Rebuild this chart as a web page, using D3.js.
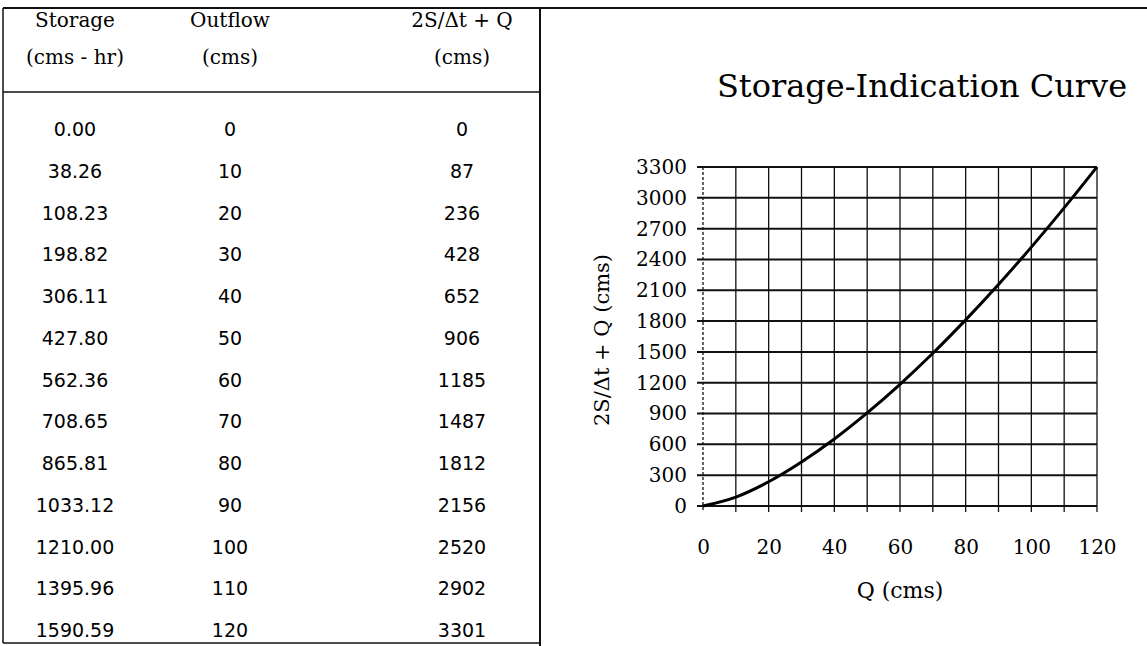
<!DOCTYPE html>
<html>
<head>
<meta charset="utf-8">
<script src="https://cdn.jsdelivr.net/npm/d3@7"></script>
<style>
  body { margin: 0; background: #fff; }
  svg text { fill: #000; }
  .serif { font-family: "DejaVu Serif", serif; }
  .sans { font-family: "DejaVu Sans", sans-serif; }
</style>
</head>
<body>
<svg width="1147" height="646"></svg>
<script>
// table data
var storage = ['0.00', '38.26', '108.23', '198.82', '306.11', '427.80', '562.36',
  '708.65', '865.81', '1033.12', '1210.00', '1395.96', '1590.59']
var outflow = [0, 10, 20, 30, 40, 50, 60, 70, 80, 90, 100, 110, 120]
var indication = [0, 87, 236, 428, 652, 906, 1185, 1487, 1812, 2156, 2520, 2902, 3301]
var headers = [['Storage', '(cms - hr)'], ['Outflow', '(cms)'], ['2S/\u0394t + Q', '(cms)']]

// axis ticks
var xTicks = [0, 20, 40, 60, 80, 100, 120]
var xGrid = d3.range(0, 121, 10)
var yTicks = [0, 300, 600, 900, 1200, 1500, 1800, 2100, 2400, 2700, 3000, 3300]

var svg = d3.select('svg')

// frame lines
var divX = 540
var frame = svg.append('g').attr('stroke', '#111').attr('fill', 'none')
frame.append('line').attr('x1', 3).attr('x2', 1147).attr('y1', 8).attr('y2', 8).attr('stroke-width', 2)
frame.append('line').attr('x1', 3).attr('x2', 3).attr('y1', 8).attr('y2', 643).attr('stroke-width', 1.5)
frame.append('line').attr('x1', 3).attr('x2', divX).attr('y1', 643).attr('y2', 643).attr('stroke-width', 1.5)
frame.append('line').attr('x1', 3).attr('x2', divX).attr('y1', 92).attr('y2', 92).attr('stroke-width', 1.5)
frame.append('line').attr('x1', divX).attr('x2', divX).attr('y1', 8).attr('y2', 646).attr('stroke-width', 2)

// table
var colX = [75, 230, 462]
var rowY = d3.scaleLinear().domain([0, 12]).range([129, 630])

headers.forEach(function(h, i) {
  svg.append('text').attr('class', 'serif')
    .attr('x', colX[i]).attr('y', 27).attr('text-anchor', 'middle')
    .attr('font-size', 20).text(h[0])
  svg.append('text').attr('class', 'serif')
    .attr('x', colX[i]).attr('y', 64).attr('text-anchor', 'middle')
    .attr('font-size', 20).text(h[1])
})

var rows = svg.append('g').attr('class', 'sans').attr('font-size', 19).attr('text-anchor', 'middle')
storage.forEach(function(s, i) {
  var y = rowY(i) + 7
  rows.append('text').attr('x', colX[0]).attr('y', y).text(s)
  rows.append('text').attr('x', colX[1]).attr('y', y).text(outflow[i])
  rows.append('text').attr('x', colX[2]).attr('y', y).text(indication[i])
})

// chart
var x = d3.scaleLinear().domain([0, 120]).range([703, 1097])
var y = d3.scaleLinear().domain([0, 3300]).range([506, 167])

svg.append('text').attr('class', 'serif')
  .attr('x', 922).attr('y', 97).attr('text-anchor', 'middle')
  .attr('font-size', 32).text('Storage-Indication Curve')

var grid = svg.append('g').attr('stroke', '#111')
grid.selectAll('.v').data(xGrid).enter().append('line')
  .attr('x1', d => x(d)).attr('x2', d => x(d))
  .attr('y1', y(3300)).attr('y2', y(0) + 6)
  .attr('stroke-width', 1.3)
  .attr('stroke-dasharray', d => d === 0 ? '3,2' : null)
grid.selectAll('.h').data(yTicks).enter().append('line')
  .attr('x1', x(0) - 6).attr('x2', x(120))
  .attr('y1', d => y(d)).attr('y2', d => y(d))
  .attr('stroke-width', 2)

// axes labels via d3 axis
var yAxis = svg.append('g').attr('transform', 'translate(' + (x(0) - 12) + ',0)')
  .call(d3.axisLeft(y).tickValues(yTicks).tickFormat(d3.format('d')).tickSize(0).tickPadding(4))
yAxis.select('.domain').remove()
yAxis.selectAll('text').attr('class', 'serif').attr('font-size', 20).attr('fill', '#000')

var xAxis = svg.append('g').attr('transform', 'translate(0,' + (y(0) + 30) + ')')
  .call(d3.axisBottom(x).tickValues(xTicks).tickSize(0).tickPadding(4))
xAxis.select('.domain').remove()
xAxis.selectAll('text').attr('class', 'serif').attr('font-size', 20).attr('fill', '#000')

svg.append('text').attr('class', 'serif')
  .attr('x', 900).attr('y', 598).attr('text-anchor', 'middle')
  .attr('font-size', 22).text('Q (cms)')

svg.append('text').attr('class', 'serif')
  .attr('transform', 'translate(609,340) rotate(-90)')
  .attr('text-anchor', 'middle').attr('font-size', 21)
  .text('2S/\u0394t + Q (cms)')

// the curve
var line = d3.line()
  .x((d, i) => x(outflow[i]))
  .y(d => y(d))
  .curve(d3.curveMonotoneX)

svg.append('path').datum(indication)
  .attr('d', line)
  .attr('fill', 'none').attr('stroke', '#000').attr('stroke-width', 3)
</script>
</body>
</html>
